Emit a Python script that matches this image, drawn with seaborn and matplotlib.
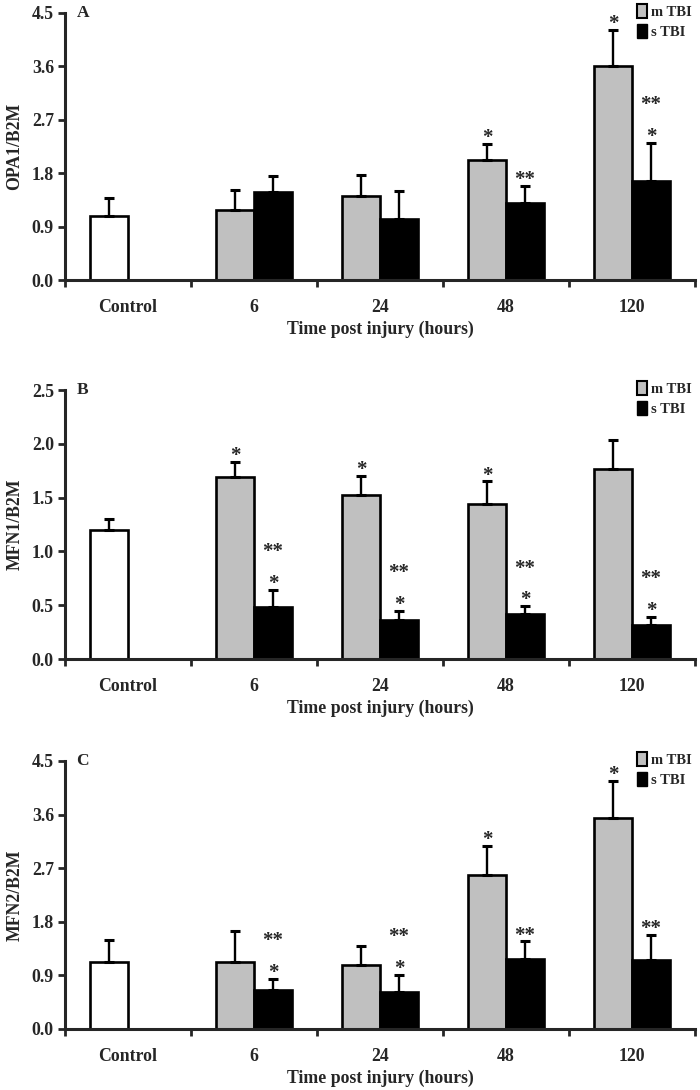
import matplotlib
matplotlib.use('Agg')
import matplotlib.pyplot as plt
import matplotlib.patches as mpatches
import numpy as np
import pandas as pd
import seaborn as sns

sns.set_style('ticks')
plt.rcParams['font.family'] = ['Liberation Serif', 'DejaVu Serif']
plt.rcParams['font.weight'] = 'bold'
plt.rcParams['axes.labelweight'] = 'bold'

categories = ['Control', '6', '24', '48', '120']
times = ['6', '24', '48', '120']

# panel A: OPA1/B2M
opa1_ctrl = 1.08
opa1_ctrl_err = 0.30
opa1_m = [1.18, 1.41, 2.02, 3.60]
opa1_m_err = [0.34, 0.36, 0.28, 0.61]
opa1_s = [1.49, 1.02, 1.30, 1.67]
opa1_s_err = [0.26, 0.48, 0.29, 0.64]
opa1_m_sig = ['', '', '*', '*']
opa1_s_sig = ['', '', '**', '*']
opa1_s_sig2 = ['', '', '', '**']

# panel B: MFN1/B2M
mfn1_ctrl = 1.20
mfn1_ctrl_err = 0.10
mfn1_m = [1.69, 1.52, 1.44, 1.77]
mfn1_m_err = [0.14, 0.185, 0.21, 0.27]
mfn1_s = [0.48, 0.36, 0.42, 0.32]
mfn1_s_err = [0.16, 0.09, 0.07, 0.07]
mfn1_m_sig = ['*', '*', '*', '']
mfn1_s_sig = ['*', '*', '*', '*']
mfn1_s_sig2 = ['**', '**', '**', '**']

# panel C: MFN2/B2M
mfn2_ctrl = 1.12
mfn2_ctrl_err = 0.37
mfn2_m = [1.12, 1.07, 2.59, 3.55]
mfn2_m_err = [0.53, 0.315, 0.49, 0.615]
mfn2_s = [0.66, 0.625, 1.18, 1.16]
mfn2_s_err = [0.18, 0.285, 0.29, 0.415]
mfn2_m_sig = ['', '', '*', '*']
mfn2_s_sig = ['*', '*', '**', '**']
mfn2_s_sig2 = ['**', '**', '', '']

GRAY = '#c0c0c0'
FS = 12.8


def build_df(ctrl, ctrl_err, m, m_err, s, s_err, m_sig, s_sig, s_sig2):
    rows = [dict(time='Control', slot='left', value=ctrl, err=ctrl_err, sig='', sig2='')]
    for i, t in enumerate(times):
        rows.append(dict(time=t, slot='left', value=m[i], err=m_err[i], sig=m_sig[i], sig2=''))
        rows.append(dict(time=t, slot='right', value=s[i], err=s_err[i], sig=s_sig[i], sig2=s_sig2[i]))
    return pd.DataFrame(rows)


def plot_panel(ax, df, ylabel, ymax, ystep, letter):
    sns.barplot(data=df, x='time', y='value', hue='slot', order=categories,
                hue_order=['left', 'right'], palette={'left': GRAY, 'right': 'black'},
                width=0.6, edgecolor='black', linewidth=1.9, errorbar=None,
                legend=False, ax=ax)

    for p in ax.patches:
        if p.get_height() == 0 or np.isnan(p.get_height()):
            continue
        xc = p.get_x() + p.get_width() / 2
        ci = int(round(xc))
        slot = 'left' if xc < ci else 'right'
        row = df[(df.time == categories[ci]) & (df.slot == slot)].iloc[0]
        if categories[ci] == 'Control':
            p.set_facecolor('white')
        top = row.value + row.err
        ax.errorbar(xc, row.value, yerr=[[0], [row.err]], fmt='none', ecolor='black',
                    elinewidth=1.7, capsize=3.5, capthick=2.2, zorder=3)
        if row.sig:
            ax.annotate(row.sig, (xc, top), xytext=(0, -3), textcoords='offset points',
                        ha='center', va='bottom', fontsize=15, fontweight='bold')
        if row.sig2:
            ax.annotate(row.sig2, (xc, top), xytext=(0, 20), textcoords='offset points',
                        ha='center', va='bottom', fontsize=15, fontweight='bold')

    ax.set_xlim(-0.5, 4.5)
    ax.set_ylim(0, ymax)
    yt = np.round(np.arange(0, ymax + ystep / 2, ystep), 2)
    ax.set_yticks(yt)
    ax.set_yticklabels(['%.1f' % v for v in yt])
    ax.set_xticks(np.arange(-0.5, 5, 1), minor=True)
    ax.tick_params(axis='x', which='major', length=0, pad=14, labelsize=FS)
    ax.tick_params(axis='x', which='minor', length=5, width=2, direction='out')
    ax.tick_params(axis='y', length=5, width=2, direction='out', pad=3, labelsize=FS)
    for lab in ax.get_xticklabels() + ax.get_yticklabels():
        lab.set_fontweight('bold')
    for side in ['left', 'bottom']:
        ax.spines[side].set_linewidth(2.2)
    sns.despine(ax=ax)

    ax.set_xlabel('Time post injury (hours)', fontsize=FS, fontweight='bold', labelpad=3)
    ax.set_ylabel(ylabel, fontsize=FS, fontweight='bold', labelpad=6)
    ax.text(0.018, 1.03, letter, transform=ax.transAxes, ha='left', va='top',
            fontsize=12.5, fontweight='bold')

    handles = [mpatches.Patch(facecolor=GRAY, edgecolor='black', linewidth=1.5, label='m TBI'),
               mpatches.Patch(facecolor='black', edgecolor='black', label='s TBI')]
    ax.legend(handles=handles, loc='upper right', bbox_to_anchor=(0.995, 1.035),
              frameon=False, handlelength=0.7, handleheight=1.1, handletextpad=0.3,
              labelspacing=0.35, borderaxespad=0, borderpad=0,
              prop={'family': 'Liberation Serif', 'weight': 'bold', 'size': 10.5})


fig = plt.figure(figsize=(7, 10.9), dpi=100)
ax_a = fig.add_axes([0.093, 0.7431, 0.9, 0.245])
ax_b = fig.add_axes([0.093, 0.3954, 0.9, 0.2468])
ax_c = fig.add_axes([0.093, 0.0560, 0.9, 0.2459])

plot_panel(ax_a, build_df(opa1_ctrl, opa1_ctrl_err, opa1_m, opa1_m_err, opa1_s, opa1_s_err,
                          opa1_m_sig, opa1_s_sig, opa1_s_sig2), 'OPA1/B2M', 4.5, 0.9, 'A')
plot_panel(ax_b, build_df(mfn1_ctrl, mfn1_ctrl_err, mfn1_m, mfn1_m_err, mfn1_s, mfn1_s_err,
                          mfn1_m_sig, mfn1_s_sig, mfn1_s_sig2), 'MFN1/B2M', 2.5, 0.5, 'B')
plot_panel(ax_c, build_df(mfn2_ctrl, mfn2_ctrl_err, mfn2_m, mfn2_m_err, mfn2_s, mfn2_s_err,
                          mfn2_m_sig, mfn2_s_sig, mfn2_s_sig2), 'MFN2/B2M', 4.5, 0.9, 'C')

fig.savefig('out.png', dpi=100)
plt.close()
